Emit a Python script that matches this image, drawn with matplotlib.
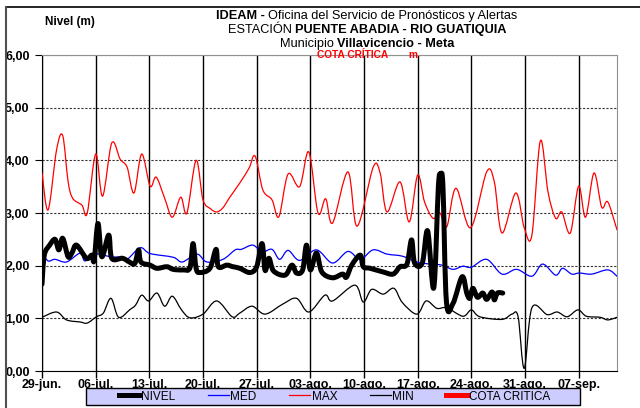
import matplotlib
matplotlib.use("Agg")
import matplotlib.pyplot as plt
from matplotlib.lines import Line2D
from matplotlib.patches import Rectangle, PathPatch
from matplotlib.path import Path

plt.rcParams['font.family'] = ['Liberation Sans', 'DejaVu Sans']

# days since 29-jun
tick_labels = ['29-jun.', '06-jul.', '13-jul.', '20-jul.', '27-jul.', '03-ago.',
               '10-ago.', '17-ago.', '24-ago.', '31-ago.', '07-sep.']
y_labels = ['0,00', '1,00', '2,00', '3,00', '4,00', '5,00', '6,00']

nivel_x = [0, 0.3, 1.0, 1.7, 2.2, 2.7, 3.4, 3.9, 4.5, 5.8, 6.5, 6.8, 7.3, 7.8, 8.7, 9.1,
           10.5, 11.4, 12.1, 12.6, 12.9, 14.1, 15.0, 16.3, 17.1, 18.4, 19.3, 19.7, 20.1,
           20.6, 21.9, 22.7, 23.0, 24.1, 24.9, 25.8, 27.1, 28.0, 28.7, 29.1, 29.6, 30.2,
           31.7, 32.6, 33.2, 34.0, 34.5, 35.0, 35.8, 36.5, 37.9, 39.2, 39.7, 40.4, 41.5,
           41.9, 42.8, 44.5, 45.8, 46.7, 47.6, 48.2, 48.6, 49.6, 50.3, 51.1, 51.7, 52.0,
           52.3, 52.75, 53.6, 54.8, 55.4, 55.8, 56.2, 56.8, 57.5, 58.0, 58.7, 59.0, 59.4, 60.1]
nivel_y = [1.65, 2.2, 2.39, 2.5, 2.3, 2.52, 2.17, 2.24, 2.39, 2.14, 2.2, 2.1, 2.8, 2.17, 2.58, 2.14,
           2.14, 2.07, 2.04, 2.3, 2.07, 2.01, 1.95, 1.98, 1.93, 1.92, 1.96, 2.42, 1.95,
           1.87, 1.95, 2.31, 1.98, 2.01, 1.98, 1.95, 1.87, 1.98, 2.42, 1.91, 2.14, 1.9,
           1.82, 2.01, 1.86, 1.92, 2.39, 1.92, 2.24, 1.88, 1.77, 1.84, 1.78, 2.01, 2.2,
           1.98, 1.95, 1.88, 1.84, 1.98, 2.03, 2.49, 2.05, 2.05, 2.66, 1.58, 3.5, 3.72,
           3.5, 1.32, 1.28, 1.79, 1.48, 1.38, 1.57, 1.4, 1.48, 1.36, 1.5, 1.35, 1.48, 1.48]

med_x = [0, 0.8, 1.7, 3.2, 5.0, 5.6, 7.1, 8.9, 10.2, 11.1, 12.8, 14.1, 17.1, 18.3, 20.2,
         21.5, 23.6, 25.2, 26.0, 27.5, 28.7, 30.0, 31.0, 32.1, 33.6, 35.8, 37.9, 39.9,
         41.5, 43.2, 45.0, 47.0, 48.9, 50.6, 52.2, 53.6, 54.9, 56.0, 58.0, 60.0, 61.9,
         63.9, 65.3, 67.0, 67.9, 69.1, 70.1, 71.7, 73.8, 75.0]
med_y = [2.24, 2.09, 2.12, 2.07, 2.24, 2.09, 2.22, 2.17, 2.16, 2.12, 2.34, 2.23, 2.16, 2.07, 2.22,
         2.07, 2.12, 2.3, 2.31, 2.39, 2.26, 2.31, 2.12, 2.29, 2.1, 2.3, 2.05, 2.27,
         2.12, 2.3, 2.22, 2.18, 2.07, 2.03, 2.01, 1.93, 1.99, 1.97, 2.12, 1.84, 1.93,
         1.8, 2.03, 1.82, 1.95, 1.84, 1.86, 1.84, 1.92, 1.8]

max_x = [0, 0.8, 1.9, 2.7, 3.4, 4.0, 5.2, 5.9, 7.0, 7.9, 9.1, 10.2, 11.1, 12.0, 13.0, 14.1,
         14.9, 16.0, 17.0, 18.1, 18.9, 20.1, 21.0, 22.0, 22.8, 23.6, 24.5, 25.8, 27.0,
         27.8, 28.8, 30.0, 30.9, 32.1, 33.6, 34.8, 36.0, 37.0, 37.9, 39.9, 41.1, 43.2,
         44.1, 45.0, 46.7, 47.9, 49.0, 49.9, 51.0, 51.9, 52.8, 54.0, 55.9, 58.0, 59.0,
         60.0, 61.8, 62.9, 63.9, 65.0, 66.0, 67.0, 67.8, 68.9, 70.0, 70.9, 72.0, 73.0,
         73.8, 75.0]
max_y = [3.76, 3.06, 4.2, 4.47, 3.6, 3.28, 3.15, 3.0, 4.12, 3.32, 4.33, 4.02, 3.87, 3.38, 4.12, 3.51,
         3.68, 3.28, 2.92, 3.3, 3.0, 4.0, 3.25, 3.08, 3.02, 3.1, 3.3, 3.57, 3.85,
         4.08, 3.44, 3.25, 2.93, 3.74, 3.5, 4.16, 3.0, 3.27, 2.81, 3.78, 2.75, 3.87,
         3.76, 3.02, 3.59, 2.83, 3.72, 3.21, 2.9, 3.0, 2.74, 3.47, 2.72, 3.78, 3.59,
         2.62, 3.38, 2.72, 2.58, 4.37, 3.4, 2.9, 3.02, 2.62, 3.51, 2.92, 3.76, 3.11,
         3.21, 2.68]

min_x = [0, 1.9, 3.2, 5.0, 5.9, 7.1, 8.0, 9.0, 10.0, 11.5, 12.2, 13.0, 13.9, 15.0, 16.0,
         17.0, 18.2, 19.3, 21.0, 22.8, 24.8, 25.8, 27.4, 29.1, 31.4, 33.2, 34.8, 36.9,
         37.9, 40.8, 41.9, 43.0, 44.5, 45.9, 47.0, 48.9, 50.1, 51.5, 52.8, 54.9, 56.0,
         57.1, 60.0, 61.3, 62.1, 62.9, 63.9, 65.9, 67.2, 68.5, 69.9, 71.0, 72.8, 73.8, 75.0]
min_y = [1.02, 1.12, 0.97, 0.93, 0.91, 1.03, 1.1, 1.38, 1.02, 1.17, 1.25, 1.44, 1.33, 1.48, 1.23,
         1.42, 1.16, 1.01, 1.08, 1.33, 1.03, 1.1, 1.23, 1.08, 1.27, 1.38, 1.12, 1.44,
         1.33, 1.63, 1.31, 1.55, 1.46, 1.57, 1.3, 1.08, 1.33, 1.19, 1.2, 1.04, 1.16,
         1.03, 0.98, 1.08, 1.03, 0.05, 1.2, 1.07, 1.12, 1.03, 1.16, 1.04, 1.02, 0.97, 1.02]

W, H = 640, 408
fig = plt.figure(figsize=(6.4, 4.08), dpi=100)
ax = fig.add_axes([42 / W, 1 - 371 / H, 575 / W, 316 / H])


def smooth_line(xs, ys, color, lw, z):
    # Excel-like smoothed line: Catmull-Rom segments drawn as cubic Beziers
    pts = list(zip(xs, ys))
    verts = [pts[0]]
    codes = [Path.MOVETO]
    n = len(pts)
    for i in range(n - 1):
        p0 = pts[max(i - 1, 0)]
        p1 = pts[i]
        p2 = pts[i + 1]
        p3 = pts[min(i + 2, n - 1)]
        c1 = (p1[0] + (p2[0] - p0[0]) / 6, p1[1] + (p2[1] - p0[1]) / 6)
        c2 = (p2[0] - (p3[0] - p1[0]) / 6, p2[1] - (p3[1] - p1[1]) / 6)
        verts += [c1, c2, p2]
        codes += [Path.CURVE4] * 3
    ax.add_patch(PathPatch(Path(verts, codes), fill=False, edgecolor=color, lw=lw,
                           joinstyle='round', capstyle='round', zorder=z))
    return Line2D([], [], color=color, lw=lw)


h_nivel = smooth_line(nivel_x, nivel_y, 'black', 3.6, 5)
h_med = smooth_line(med_x, med_y, '#0000FF', 0.9, 4)
h_max = smooth_line(max_x, max_y, '#FF0000', 0.9, 4)
h_min = smooth_line(min_x, min_y, 'black', 0.9, 4)
h_cota = Line2D([], [], color='#FF0000', lw=3.6)

ax.set_xlim(0, 75)
ax.set_ylim(0, 6)
ax.set_xticks(range(0, 71, 7))
ax.set_xticklabels(tick_labels, fontweight='bold', fontsize=9)
ax.set_yticks(range(7))
ax.set_yticklabels(y_labels, fontweight='bold', fontsize=9)
ax.tick_params(axis='x', direction='out', length=5, width=1, pad=1)
ax.tick_params(axis='y', direction='out', length=5, width=0.8, pad=4)
ax.set_axisbelow(True)
ax.grid(axis='x', color='black', lw=1, ls='-')
ax.grid(axis='y', color='#333333', lw=0.8, ls=(0, (2, 1.5)))
for s in ['top', 'right']:
    ax.spines[s].set_color('#909090')
ax.spines['left'].set_color('black')
ax.spines['bottom'].set_color('black')

# legend box
fig.patches.append(Rectangle((86 / W, 1 - 405 / H), 494 / W, 17 / H, transform=fig.transFigure,
                             facecolor='#CCCCFF', edgecolor='black', lw=1, zorder=1))
fig.legend([h_nivel, h_med, h_max, h_min, h_cota], ['NIVEL', 'MED', 'MAX', 'MIN', 'COTA CRITICA'],
           loc='center left', bbox_to_anchor=(119 / W, 1 - 396.5 / H), ncol=5, frameon=False,
           fontsize=8.5, handlelength=1.8, handletextpad=0.1, columnspacing=2.75,
           borderpad=0, borderaxespad=0)

# frame lines of the chart area
fig.add_artist(Line2D([6 / W, 1], [1 - 7 / H, 1 - 7 / H], color='black', lw=1.2, transform=fig.transFigure))
fig.add_artist(Line2D([6 / W, 6 / W], [0, 1 - 7 / H], color='#505050', lw=1.5, transform=fig.transFigure))

fig.text(45 / W, 1 - 22 / H, 'Nivel (m)', fontsize=8.5, fontweight='bold', va='center', ha='left')


def title_line(y, parts, size, cx=367, gap=3):
    texts = [fig.text(0, 1 - y / H, s, fontsize=size, fontweight=w, color=c, va='center', ha='left')
             for s, w, c in parts]
    r = fig.canvas.get_renderer()
    widths = [t.get_window_extent(r).width for t in texts]
    x = cx - (sum(widths) + gap * (len(texts) - 1)) / 2
    for t, w in zip(texts, widths):
        t.set_x(x / W)
        x += w + gap


title_line(16, [('IDEAM -', 'bold', 'black'),
                ('Oficina del Servicio de Pronósticos y Alertas', 'normal', 'black')], 9.2)
title_line(30, [('ESTACIÓN', 'normal', 'black'),
                ('PUENTE ABADIA - RIO GUATIQUIA', 'bold', 'black')], 9.2)
title_line(44, [('Municipio', 'normal', 'black'),
                ('Villavicencio - Meta', 'bold', 'black')], 9.2)
fig.text(317 / W, 1 - 54.5 / H, 'COTA CRÍTICA', fontsize=7.3, fontweight='bold', color='#FF0000',
         va='center', ha='left')
fig.text(408 / W, 1 - 54.5 / H, 'm', fontsize=7.3, fontweight='bold', color='#FF0000',
         va='center', ha='left')

fig.savefig('out.png', dpi=100)
